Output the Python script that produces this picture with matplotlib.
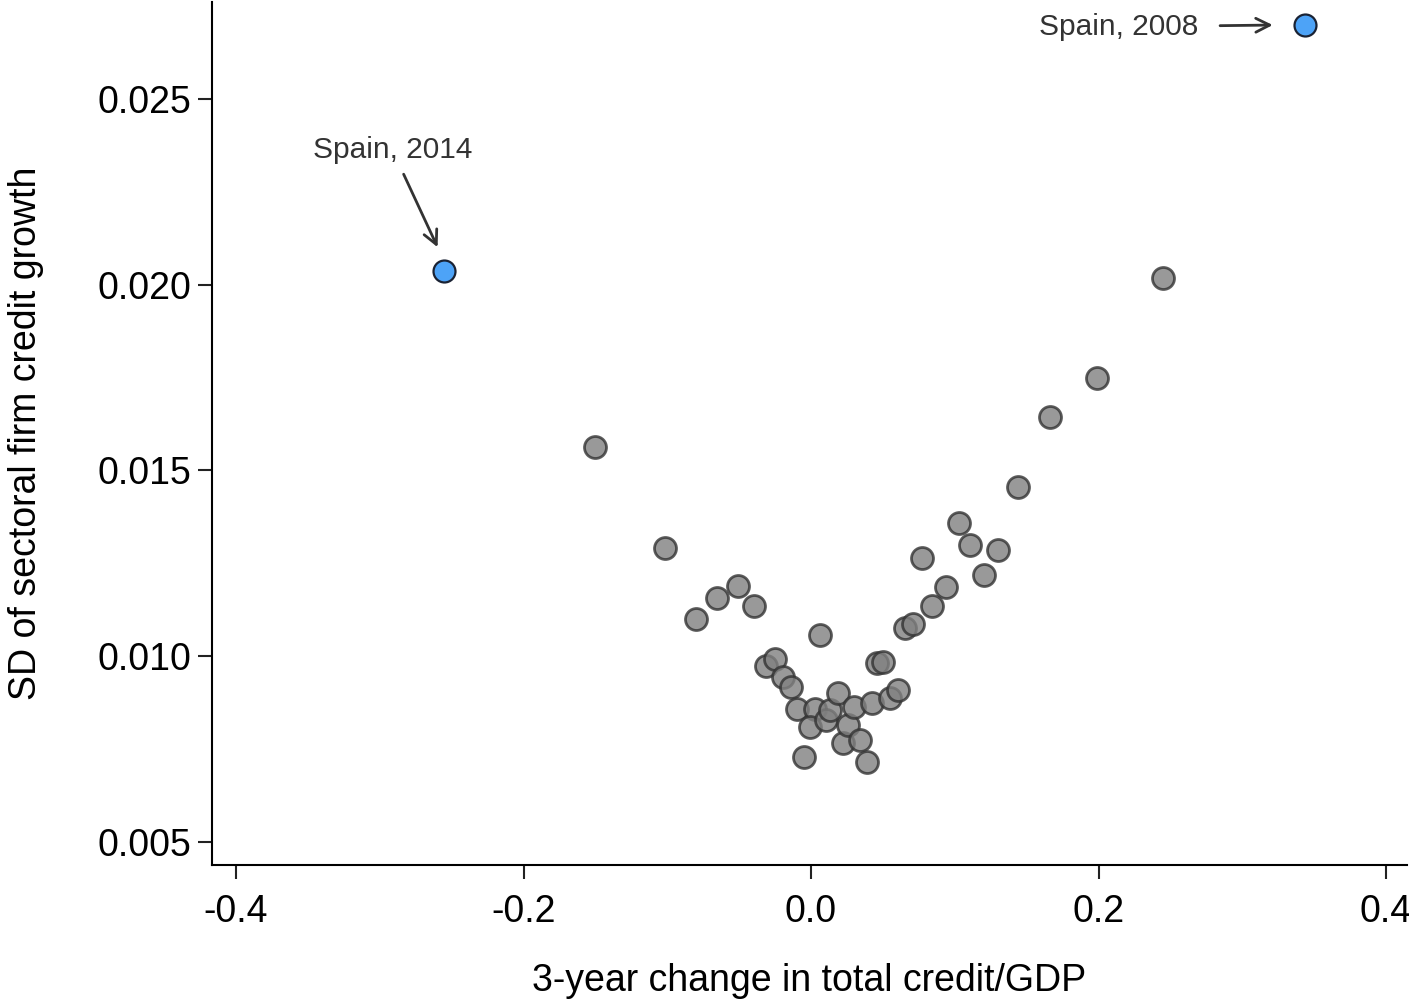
import matplotlib
matplotlib.use("Agg")
import matplotlib.pyplot as plt

plt.rcParams['font.family'] = ['Liberation Sans', 'DejaVu Sans']

# Country-year observations: 3-year change in credit/GDP vs SD of sectoral credit growth
credit_change = [
    -0.1503, -0.1016, -0.0800, -0.0654, -0.0508, -0.0397, 0.0063, -0.0313,
    -0.0250, -0.0195, -0.0139, -0.0097, 0.0028, -0.0007, -0.0049, 0.0104,
    0.0132, 0.0188, 0.0223, 0.0257, 0.0299, 0.0341, 0.0390, 0.0424, 0.0459,
    0.0501, 0.0550, 0.0605, 0.0654, 0.0710, 0.0772, 0.0842, 0.0939, 0.1030,
    0.1106, 0.1203, 0.1301, 0.1440, 0.1663, 0.1990, 0.2449,
]
sd_growth = [
    0.01563, 0.01291, 0.01100, 0.01157, 0.01189, 0.01135, 0.01057, 0.00974,
    0.00993, 0.00944, 0.00917, 0.00858, 0.00858, 0.00810, 0.00729, 0.00828,
    0.00855, 0.00901, 0.00766, 0.00815, 0.00863, 0.00775, 0.00716, 0.00874,
    0.00982, 0.00985, 0.00888, 0.00909, 0.01076, 0.01087, 0.01264, 0.01135,
    0.01186, 0.01359, 0.01299, 0.01219, 0.01286, 0.01456, 0.01644, 0.01749,
    0.02018,
]

# Highlighted observations
spain_labels = ["Spain, 2014", "Spain, 2008"]
spain_change = [-0.2553, 0.3437]
spain_sd = [0.02037, 0.02699]

fig = plt.figure(figsize=(14.09, 10.02), dpi=100)
ax = fig.add_axes([0.1505, 0.1367, 0.8481, 0.8613])

ax.scatter(credit_change, sd_growth, s=250, facecolor=(0.5, 0.5, 0.5, 0.8),
           edgecolor=(0.2, 0.2, 0.2, 0.8), linewidth=2, zorder=3)
ax.scatter(spain_change, spain_sd, s=250, facecolor='#4da3f7',
           edgecolor='#1a2233', linewidth=1.6, zorder=4)

ax.set_xlim(-0.4167, 0.4146)
ax.set_ylim(0.00438, 0.02761)
ax.set_xticks([-0.4, -0.2, 0.0, 0.2, 0.4])
ax.set_xticklabels(["-0.4", "-0.2", "0.0", "0.2", "0.4"])
ax.set_yticks([0.005, 0.010, 0.015, 0.020, 0.025])
ax.set_yticklabels(["0.005", "0.010", "0.015", "0.020", "0.025"])

for side in ("top", "right"):
    ax.spines[side].set_visible(False)
for side in ("left", "bottom"):
    ax.spines[side].set_linewidth(1.5)
ax.tick_params(axis='both', labelsize=27, length=10, width=1.5, color='#222222')
ax.tick_params(axis='x', pad=11)
ax.tick_params(axis='y', pad=5)

ax.set_xlabel("3-year change in total credit/GDP", fontsize=27)
ax.set_ylabel("SD of sectoral firm credit growth", fontsize=27)
ax.xaxis.set_label_coords(0.5, -0.114)
ax.yaxis.set_label_coords(-0.141, 0.5)

arrow = dict(arrowstyle='->', color='#333333', lw=2, mutation_scale=25,
             shrinkA=6, shrinkB=0)
ax.annotate(spain_labels[0], xy=(spain_change[0] - 0.0045, spain_sd[0] + 0.00064),
            xytext=(-0.2913, 0.02363), fontsize=21.5, color='#333333',
            ha='center', va='center', arrowprops=arrow)
arrow2 = dict(arrow, shrinkA=14)
ax.annotate(spain_labels[1], xy=(spain_change[1] - 0.0225, spain_sd[1]),
            xytext=(0.2137, 0.02694), fontsize=21.5, color='#333333',
            ha='center', va='center', arrowprops=arrow2)

fig.savefig("out.png", dpi=100)
